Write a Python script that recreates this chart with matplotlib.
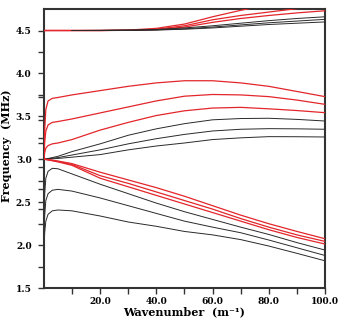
import numpy as np
import matplotlib
matplotlib.use("Agg")
import matplotlib.pyplot as plt

# wavenumber grid (m^-1)
k = [0, 0.3, 0.7, 1.5, 3, 5, 10, 20, 30, 40, 50, 60, 70, 80, 90, 100]
k_top_black = [10, 20, 30, 40, 50, 60, 70, 80, 90, 100]

# upper branch near 4.5 MHz
red_top1 = [4.5, 4.5, 4.5, 4.5, 4.5, 4.5, 4.5, 4.5, 4.505, 4.525, 4.575, 4.66, 4.735, 4.80, 4.86, 4.92]
red_top2 = [4.5, 4.5, 4.5, 4.5, 4.5, 4.5, 4.5, 4.5, 4.503, 4.515, 4.555, 4.625, 4.675, 4.715, 4.755, 4.80]
red_top3 = [4.5, 4.5, 4.5, 4.5, 4.5, 4.5, 4.5, 4.5, 4.502, 4.51, 4.54, 4.595, 4.64, 4.675, 4.705, 4.73]
black_top1 = [4.5, 4.502, 4.505, 4.512, 4.53, 4.555, 4.585, 4.615, 4.64, 4.66]
black_top2 = [4.5, 4.501, 4.503, 4.508, 4.52, 4.54, 4.565, 4.59, 4.61, 4.63]
black_top3 = [4.5, 4.5, 4.502, 4.505, 4.515, 4.53, 4.55, 4.57, 4.585, 4.60]

# middle branch 3.0 - 4.0 MHz
red_mid1 = [3.0, 3.35, 3.58, 3.68, 3.71, 3.72, 3.75, 3.80, 3.85, 3.89, 3.915, 3.915, 3.89, 3.85, 3.79, 3.73]
red_mid2 = [3.0, 3.2, 3.33, 3.40, 3.43, 3.44, 3.47, 3.54, 3.61, 3.68, 3.735, 3.755, 3.75, 3.73, 3.69, 3.64]
red_mid3 = [3.0, 3.08, 3.13, 3.16, 3.18, 3.19, 3.23, 3.34, 3.43, 3.51, 3.565, 3.597, 3.605, 3.588, 3.568, 3.543]
black_mid1 = [3.0, 3.002, 3.005, 3.01, 3.02, 3.035, 3.09, 3.18, 3.28, 3.355, 3.415, 3.46, 3.475, 3.478, 3.465, 3.446]
black_mid2 = [3.0, 3.001, 3.003, 3.006, 3.012, 3.02, 3.05, 3.11, 3.18, 3.24, 3.29, 3.33, 3.35, 3.357, 3.355, 3.35]
black_mid3 = [3.0, 3.0, 3.001, 3.003, 3.006, 3.01, 3.025, 3.055, 3.11, 3.155, 3.19, 3.23, 3.25, 3.264, 3.263, 3.26]

# lower branch
red_low1 = [3.0, 3.0, 2.999, 2.997, 2.99, 2.98, 2.95, 2.85, 2.76, 2.67, 2.57, 2.46, 2.35, 2.25, 2.16, 2.075]
red_low2 = [3.0, 3.0, 2.998, 2.995, 2.987, 2.975, 2.94, 2.81, 2.72, 2.62, 2.52, 2.42, 2.31, 2.21, 2.12, 2.044]
red_low3 = [3.0, 3.0, 2.998, 2.993, 2.983, 2.97, 2.93, 2.78, 2.68, 2.58, 2.48, 2.38, 2.28, 2.18, 2.09, 2.013]
black_low1 = [2.2, 2.6, 2.78, 2.86, 2.895, 2.89, 2.83, 2.71, 2.60, 2.49, 2.39, 2.30, 2.21, 2.125, 2.03, 1.943]
black_low2 = [2.05, 2.35, 2.52, 2.60, 2.64, 2.65, 2.63, 2.55, 2.46, 2.37, 2.28, 2.21, 2.145, 2.06, 1.97, 1.88]
black_low3 = [1.95, 2.15, 2.28, 2.36, 2.40, 2.41, 2.40, 2.34, 2.27, 2.22, 2.16, 2.12, 2.065, 1.99, 1.905, 1.818]

# cutoff marks on the frequency axis
cutoff_marks = [3.72, 3.46, 3.19, 2.915, 2.66, 2.42]

x_major = [20, 40, 60, 80, 100]
x_minor = [10, 30, 50, 70, 90]
y_major = [1.5, 2.0, 2.5, 3.0, 3.5, 4.0, 4.5]
y_minor = [1.75, 2.25, 2.75, 3.25, 3.75, 4.25]

RED = "#e3262b"
BLK = "#2a2a2a"
SPINE = "#333333"

fig = plt.figure(figsize=(3.4, 3.23), dpi=100)
ax = fig.add_axes([0.129, 0.108, 0.827, 0.864])

for y in (black_mid1, black_mid2, black_mid3, black_low1, black_low2, black_low3):
    ax.plot(k, y, color=BLK, lw=0.7, zorder=2)
for y in (red_top1, red_top2, red_top3, red_mid1, red_mid2, red_mid3,
          red_low1, red_low2, red_low3):
    ax.plot(k, y, color=RED, lw=0.9, zorder=3)
for y in (black_top1, black_top2, black_top3):
    ax.plot(k_top_black, y, color=BLK, lw=0.7, zorder=4)

ax.set_xlim(0, 100)
ax.set_ylim(1.5, 4.75)

ax.set_xticks(x_major)
ax.set_xticks(x_minor, minor=True)
ax.set_xticklabels([f"{v:.1f}" for v in x_major])
ax.set_yticks(y_major)
ax.set_yticks(y_minor + cutoff_marks, minor=True)
ax.set_yticklabels([f"{v:.1f}" for v in y_major])

for lab in ax.get_xticklabels() + ax.get_yticklabels():
    lab.set_fontfamily("DejaVu Serif")
    lab.set_fontweight("bold")
    lab.set_fontsize(6.5)

ax.tick_params(which="both", direction="out", length=4.3, width=1, color=SPINE)
ax.tick_params(axis="y", pad=4.5)
ax.tick_params(axis="x", pad=2)

for s in ax.spines.values():
    s.set_color(SPINE)
    s.set_linewidth(1.5)

ax.set_xlabel("Wavenumber  (m\u207b\u00b9)", family="DejaVu Serif", weight="bold", size=8)
ax.xaxis.set_label_coords(0.5, -0.064)
ax.set_ylabel("Frequency  (MHz)", family="DejaVu Serif", weight="bold", size=8)
ax.yaxis.set_label_coords(-0.112, 0.51)

fig.savefig("out.png", dpi=100)
